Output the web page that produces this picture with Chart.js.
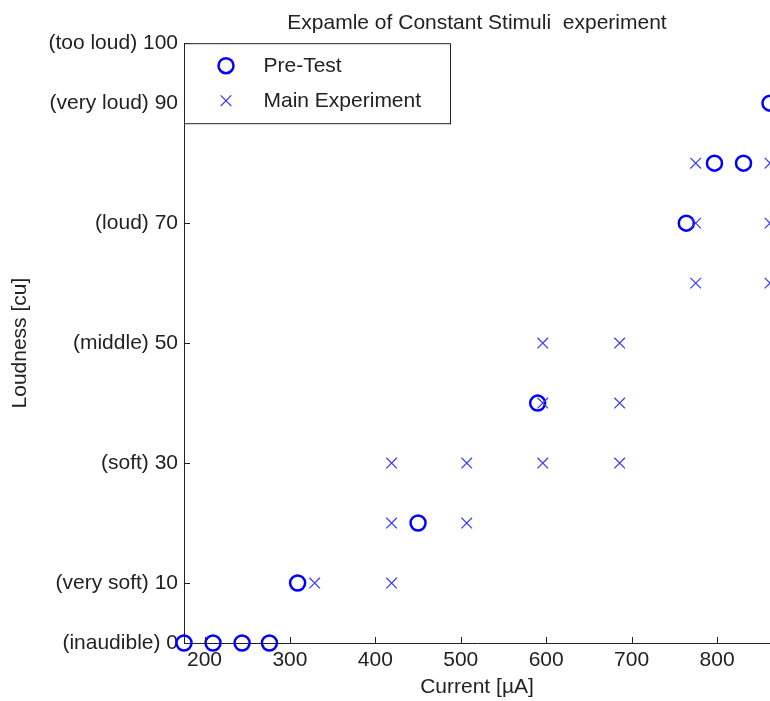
<!DOCTYPE html>
<html>
<head>
<meta charset="utf-8">
<title>Constant Stimuli</title>
<script src="https://cdn.jsdelivr.net/npm/chart.js@4/dist/chart.umd.min.js"></script>
<style>
  html, body { margin: 0; padding: 0; background: #fff; overflow: hidden; }
  canvas { display: block; }
</style>
</head>
<body>
<canvas id="loudChart" width="770" height="701"></canvas>
<script>
// Pre-test: current [uA] and loudness rating [cu]
const preTestCurrent  = [176, 210, 244, 276, 309, 450, 590, 764, 797, 831, 862];
const preTestLoudness = [0, 0, 0, 0, 10, 20, 40, 70, 80, 80, 90];

// Main experiment: constant stimuli
const mainCurrent  = [329, 419, 419, 507, 419, 507, 596, 686, 596, 686, 596, 686, 775, 862, 775, 862, 775, 862];
const mainLoudness = [10, 10, 20, 20, 30, 30, 30, 30, 40, 40, 50, 50, 60, 60, 70, 70, 80, 80];

// axis ticks
const xTickValues = [200, 300, 400, 500, 600, 700, 800];
const yTickValues = [0, 10, 30, 50, 70, 90, 100];
const yTickLabels = ['(inaudible) 0', '(very soft) 10', '(soft) 30', '(middle) 50',
                     '(loud) 70', '(very loud) 90', '(too loud) 100'];

const textColor = '#222';
const fontFamily = '"Liberation Sans", Arial, Helvetica, sans-serif';

const toPoints = (xs, ys) => xs.map((x, i) => ({ x: x, y: ys[i] }));

// inward tick marks, matlab style
const innerTicks = {
  id: 'innerTicks',
  afterDatasetsDraw(chart) {
    const { ctx, chartArea, scales } = chart;
    ctx.save();
    ctx.strokeStyle = textColor;
    ctx.lineWidth = 1;
    ctx.beginPath();
    xTickValues.forEach(v => {
      const px = Math.round(scales.x.getPixelForValue(v)) + 0.5;
      ctx.moveTo(px, chartArea.bottom);
      ctx.lineTo(px, chartArea.bottom - 6);
    });
    yTickValues.forEach(v => {
      const py = Math.round(scales.y.getPixelForValue(v)) + 0.5;
      ctx.moveTo(chartArea.left, py);
      ctx.lineTo(chartArea.left + 6, py);
    });
    ctx.stroke();
    ctx.restore();
  }
};

// boxed legend in the upper left corner of the axes
const boxLegend = {
  id: 'boxLegend',
  afterDraw(chart) {
    const { ctx, chartArea } = chart;
    const left = chartArea.left + 0.5, top = chartArea.top + 0.5;
    const w = 266, h = 80;
    ctx.save();
    ctx.fillStyle = '#fff';
    ctx.fillRect(left, top, w, h);
    ctx.strokeStyle = textColor;
    ctx.lineWidth = 1;
    ctx.strokeRect(left, top, w, h);

    const mx = left + 41.5;
    // circle sample
    ctx.strokeStyle = '#0000ff';
    ctx.lineWidth = 2.5;
    ctx.beginPath();
    ctx.arc(mx, top + 22, 7.5, 0, Math.PI * 2);
    ctx.stroke();
    // cross sample
    ctx.strokeStyle = '#3a3aff';
    ctx.lineWidth = 1.2;
    const cy = top + 57, d = 5.3;
    ctx.beginPath();
    ctx.moveTo(mx - d, cy - d); ctx.lineTo(mx + d, cy + d);
    ctx.moveTo(mx + d, cy - d); ctx.lineTo(mx - d, cy + d);
    ctx.stroke();

    ctx.fillStyle = textColor;
    ctx.font = '21px ' + fontFamily;
    ctx.textAlign = 'left';
    ctx.textBaseline = 'middle';
    ctx.fillText(chart.data.datasets[0].label, left + 79, top + 22.5);
    ctx.fillText(chart.data.datasets[1].label, left + 79, top + 57.5);
    ctx.restore();
  }
};

new Chart(document.getElementById('loudChart'), {
  type: 'scatter',
  data: {
    datasets: [
      {
        label: 'Pre-Test',
        data: toPoints(preTestCurrent, preTestLoudness),
        pointStyle: 'circle',
        pointRadius: 7.5,
        pointHoverRadius: 7.5,
        pointBorderWidth: 2.5,
        borderColor: '#0000ff',
        backgroundColor: 'rgba(0,0,0,0)',
        clip: false,
        order: 1
      },
      {
        label: 'Main Experiment',
        data: toPoints(mainCurrent, mainLoudness),
        pointStyle: 'crossRot',
        pointRadius: 7.5,
        pointHoverRadius: 7.5,
        pointBorderWidth: 1.2,
        borderColor: '#3a3aff',
        backgroundColor: '#3a3aff',
        clip: false,
        order: 0
      }
    ]
  },
  options: {
    responsive: false,
    animation: false,
    devicePixelRatio: 1,
    layout: { padding: 0, autoPadding: false },
    plugins: {
      legend: { display: false },
      tooltip: { enabled: false },
      title: {
        display: true,
        fullSize: false,
        text: 'Expamle of Constant Stimuli  experiment',
        color: textColor,
        font: { family: fontFamily, size: 21, weight: 'normal' },
        padding: { top: 11, bottom: 7 }
      }
    },
    scales: {
      x: {
        type: 'linear',
        min: 176,
        max: 862,
        grid: { display: false, drawTicks: false },
        border: { display: true, color: textColor, width: 1 },
        afterBuildTicks: scale => { scale.ticks = xTickValues.map(v => ({ value: v })); },
        afterFit: scale => { scale.height = 58; },
        ticks: {
          color: textColor,
          padding: 5,
          maxRotation: 0,
          autoSkip: false,
          font: { family: fontFamily, size: 21 }
        },
        title: {
          display: true,
          text: 'Current [\u00b5A]',
          color: textColor,
          font: { family: fontFamily, size: 21 },
          padding: { top: 0, bottom: 1 }
        }
      },
      y: {
        type: 'linear',
        min: 0,
        max: 100,
        grid: { display: false, drawTicks: false },
        border: { display: true, color: textColor, width: 1 },
        afterBuildTicks: scale => { scale.ticks = yTickValues.map(v => ({ value: v })); },
        afterFit: scale => { scale.width = 184; },
        ticks: {
          color: textColor,
          padding: 6,
          autoSkip: false,
          font: { family: fontFamily, size: 21 },
          callback: v => yTickLabels[yTickValues.indexOf(v)]
        },
        title: {
          display: true,
          text: 'Loudness [cu]',
          color: textColor,
          font: { family: fontFamily, size: 21 },
          padding: { top: 8, bottom: 0 }
        }
      }
    }
  },
  plugins: [innerTicks, boxLegend]
});
</script>
</body>
</html>
